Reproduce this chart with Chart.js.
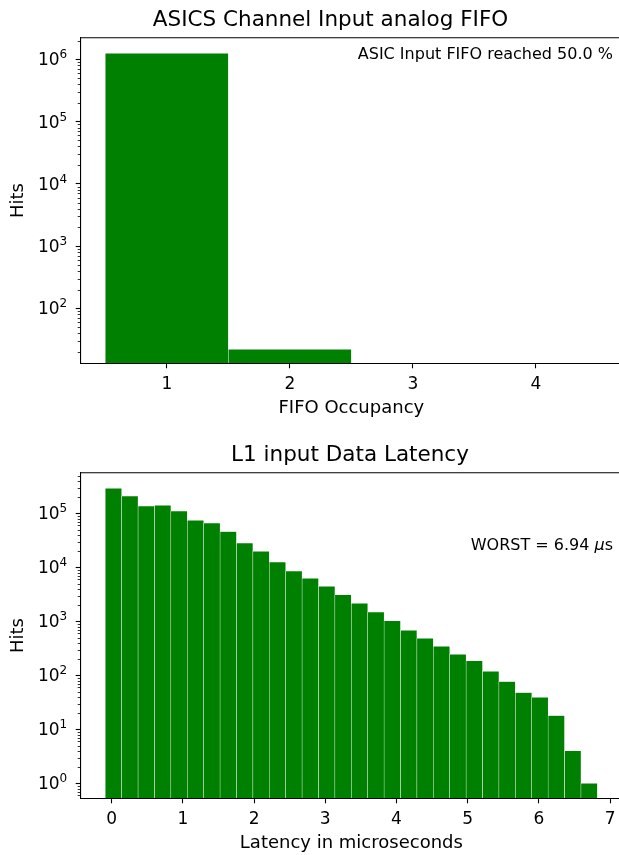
<!DOCTYPE html>
<html>
<head>
<meta charset="utf-8">
<script src="https://cdn.jsdelivr.net/npm/chart.js@4.4.1/dist/chart.umd.min.js"></script>
<style>
  html, body { margin: 0; padding: 0; overflow: hidden; background: #fff; }
  .box { position: absolute; left: 0; width: 624px; height: 435px; }
  #top-box { top: 0; }
  #bottom-box { top: 435px; }
</style>
</head>
<body>
<div class="box" id="top-box"><canvas id="fifo"></canvas></div>
<div class="box" id="bottom-box"><canvas id="latency"></canvas></div>
<script>
"use strict";

// FIFO occupancy histogram
const fifoBins = [1, 2];
const fifoHits = [1250000, 22];
const fifoTicks = [1, 2, 3, 4];
const fifoDecades = [1e2, 1e3, 1e4, 1e5, 1e6];

// L1 input latency histogram, bin centres in microseconds
const latencyBins = [
  0.026, 0.256, 0.487, 0.717, 0.947, 1.178, 1.408, 1.638, 1.868, 2.099,
  2.329, 2.559, 2.790, 3.020, 3.250, 3.481, 3.711, 3.941, 4.171, 4.402,
  4.632, 4.862, 5.093, 5.323, 5.553, 5.784, 6.014, 6.244, 6.475, 6.705,
];
const latencyHits = [
  290000, 209000, 136000, 141000, 110000, 74000, 66000, 45700, 28200, 19800,
  12500, 8500, 6250, 4450, 3100, 2150, 1490, 1020, 681, 484,
  344, 245, 186, 119, 77, 48, 39, 18, 4, 1,
];
const latencyTicks = [0, 1, 2, 3, 4, 5, 6, 7];
const latencyDecades = [1e0, 1e1, 1e2, 1e3, 1e4, 1e5];

const FONT = "'DejaVu Sans', sans-serif";
const TICK = 17;
const LABEL = 18;

// title, box spines, minor log ticks, 10^n labels and the text note
const decorPlugin = {
  id: "decor",
  afterDraw(chart, args, opts) {
    const ctx = chart.ctx;
    const a = chart.chartArea;
    const y = chart.scales.y;
    ctx.save();
    ctx.fillStyle = "#000";
    ctx.textAlign = "center";
    ctx.textBaseline = "middle";
    ctx.font = "21.5px " + FONT;
    ctx.fillText(opts.title, opts.titleX, opts.titleY);

    ctx.strokeStyle = "#000";
    ctx.lineWidth = 0.8;
    const lo = Math.floor(Math.log10(y.min));
    const hi = Math.ceil(Math.log10(y.max));
    for (let n = lo; n <= hi; n++) {
      for (let k = 2; k <= 9; k++) {
        const v = k * Math.pow(10, n);
        if (v < y.min || v > y.max) continue;
        const p = Math.round(y.getPixelForValue(v)) + 0.5;
        ctx.beginPath();
        ctx.moveTo(a.left - 3, p);
        ctx.lineTo(a.left, p);
        ctx.stroke();
      }
    }
    ctx.lineWidth = 1.1;
    ctx.beginPath();
    ctx.moveTo(a.left, a.top);
    ctx.lineTo(a.right, a.top);
    ctx.lineTo(a.right, a.bottom);
    ctx.stroke();

    // decade labels with a raised exponent
    ctx.textBaseline = "alphabetic";
    ctx.textAlign = "left";
    y.ticks.forEach((t) => {
      const e = String(Math.round(Math.log10(t.value)));
      const p = y.getPixelForValue(t.value);
      ctx.font = "12px " + FONT;
      const we = ctx.measureText(e).width;
      ctx.font = TICK + "px " + FONT;
      const wb = ctx.measureText("10").width;
      const right = a.left - 13.5;
      const base = p + 6;
      ctx.fillText("10", right - we - wb, base);
      ctx.font = "12px " + FONT;
      ctx.fillText(e, right - we, base - 7);
    });

    ctx.textBaseline = "middle";
    const tx = a.right - 9;
    const ty = a.top + opts.dy;
    const parts = opts.parts;
    let w = 0;
    parts.forEach((p) => {
      ctx.font = (p.italic ? "italic " : "") + "16px " + FONT;
      p.w = ctx.measureText(p.t).width;
      w += p.w;
    });
    let x = tx - w;
    parts.forEach((p) => {
      ctx.font = (p.italic ? "italic " : "") + "16px " + FONT;
      ctx.fillText(p.t, x, ty);
      x += p.w;
    });
    ctx.restore();
  },
};

function makeChart(id, xTitle, bins, hits, xMin, xMax, xTicks, yMin, yMax, decades, decor) {
  const points = bins.map((b, i) => ({ x: b, y: hits[i] }));
  return new Chart(document.getElementById(id), {
    type: "bar",
    data: {
      datasets: [
        {
          data: points,
          backgroundColor: "#008000",
          borderColor: "rgba(255, 255, 255, 0.85)",
          borderWidth: 0.5,
          categoryPercentage: 1,
          barPercentage: 1,
        },
      ],
    },
    plugins: [decorPlugin],
    options: {
      responsive: true,
      maintainAspectRatio: false,
      animation: false,
      layout: { padding: { top: 37.7, right: 2, bottom: 0, left: 0 } },
      plugins: {
        legend: { display: false },
        tooltip: { enabled: false },
        title: { display: false },
        decor: decor,
      },
      scales: {
        x: {
          type: "linear",
          min: xMin,
          max: xMax,
          offset: false,
          afterBuildTicks: (s) => {
            s.ticks = xTicks.map((v) => ({ value: v }));
          },
          afterFit: (s) => {
            s.height = 71.7;
          },
          grid: {
            offset: false,
            drawOnChartArea: false,
            drawTicks: true,
            tickLength: 5,
            tickColor: "#000",
            tickWidth: 1.1,
          },
          border: { display: true, color: "#000", width: 1.1 },
          ticks: {
            autoSkip: false,
            maxRotation: 0,
            padding: 5.8,
            color: "#000",
            font: { family: FONT, size: TICK },
          },
          title: {
            display: true,
            text: xTitle,
            color: "#000",
            font: { family: FONT, size: LABEL },
            padding: { top: 0, bottom: 15.9 },
          },
        },
        y: {
          type: "logarithmic",
          min: yMin,
          max: yMax,
          afterBuildTicks: (s) => {
            s.ticks = decades.map((v) => ({ value: v, major: true }));
          },
          afterFit: (s) => {
            s.width = 80.7;
          },
          grid: {
            drawOnChartArea: false,
            drawTicks: true,
            tickLength: 5,
            tickColor: "#000",
            tickWidth: 1.1,
          },
          border: { display: true, color: "#000", width: 1.1 },
          ticks: {
            autoSkip: false,
            display: false,
          },
          title: {
            display: true,
            text: "Hits",
            color: "#000",
            font: { family: FONT, size: LABEL },
            padding: { top: 7.2, bottom: 0 },
          },
        },
      },
    },
  });
}

document.addEventListener("DOMContentLoaded", function () {
  makeChart(
    "fifo", "FIFO Occupancy",
    fifoBins, fifoHits, 0.3, 4.7, fifoTicks, 13.1, 2.22e6, fifoDecades,
    {
      title: "ASICS Channel Input analog FIFO", titleX: 330.5, titleY: 20,
      dy: 17, parts: [{ t: "ASIC Input FIFO reached 50.0 %" }],
    }
  );
  makeChart(
    "latency", "Latency in microseconds",
    latencyBins, latencyHits, -0.434, 7.166, latencyTicks, 0.53, 5.64e5, latencyDecades,
    {
      title: "L1 input Data Latency", titleX: 350, titleY: 20,
      dy: 73, parts: [{ t: "WORST = 6.94 " }, { t: "μ", italic: true }, { t: "s" }],
    }
  );
});
</script>
</body>
</html>
